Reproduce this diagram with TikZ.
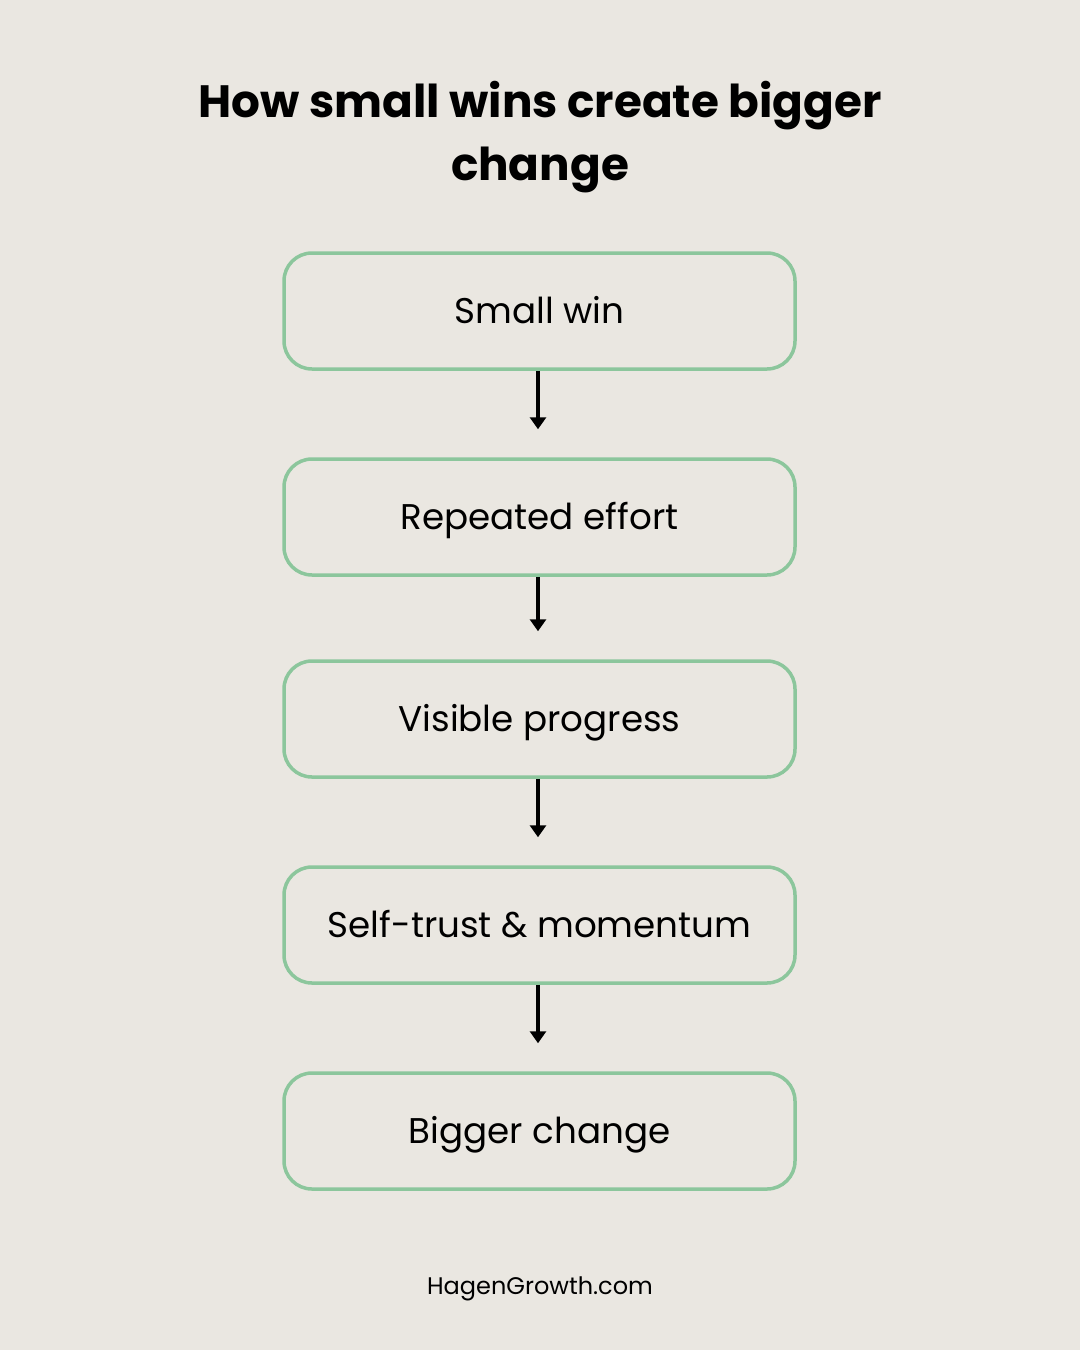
\documentclass[tikz,border=0pt]{standalone}
\usepackage{fontspec}
\setmainfont{Poppins}
\usetikzlibrary{arrows.meta}
\definecolor{bg}{HTML}{EAE7E1}
\definecolor{boxline}{HTML}{8CC69C}
\tikzset{
  stepbox/.style={draw=boxline, line width=3.5pt, rounded corners=28pt, minimum width=511pt, minimum height=116pt, inner sep=0pt, text height=25pt, text depth=0pt, font=\fontsize{35.7}{42}\selectfont, text=black},
  flowarrow/.style={draw=black, line width=3.5pt, -{Triangle[length=12pt,width=16pt]}, shorten >=28pt}
}
\begin{document}
\begin{tikzpicture}[x=1pt,y=-1pt]
\fill[bg] (0,0) rectangle (1080,1350);
\useasboundingbox (0,0) rectangle (1080,1350);
\node[align=center, font=\fontsize{45.3}{63}\selectfont\bfseries] (title) at (540,137) {How small wins create bigger\\change};
\node[stepbox] (b1) at (539.5,311) {Small win};
\node[stepbox] (b2) at (539.5,517) {Repeated effort};
\node[stepbox] (b3) at (539.5,719) {Visible progress};
\node[stepbox] (b4) at (539.5,925) {Self-trust \& momentum};
\node[stepbox] (b5) at (539.5,1131) {Bigger change};
\foreach \a/\b in {b1/b2,b2/b3,b3/b4,b4/b5}{
  \draw[flowarrow] ([xshift=-1.5pt]\a.south) -- ([xshift=-1.5pt]\b.north);
}
\node[font=\fontsize{24}{28}\selectfont, text height=17pt, text depth=0pt, inner sep=0pt] (footer) at (540,1286) {HagenGrowth.com};
\end{tikzpicture}
\end{document}
